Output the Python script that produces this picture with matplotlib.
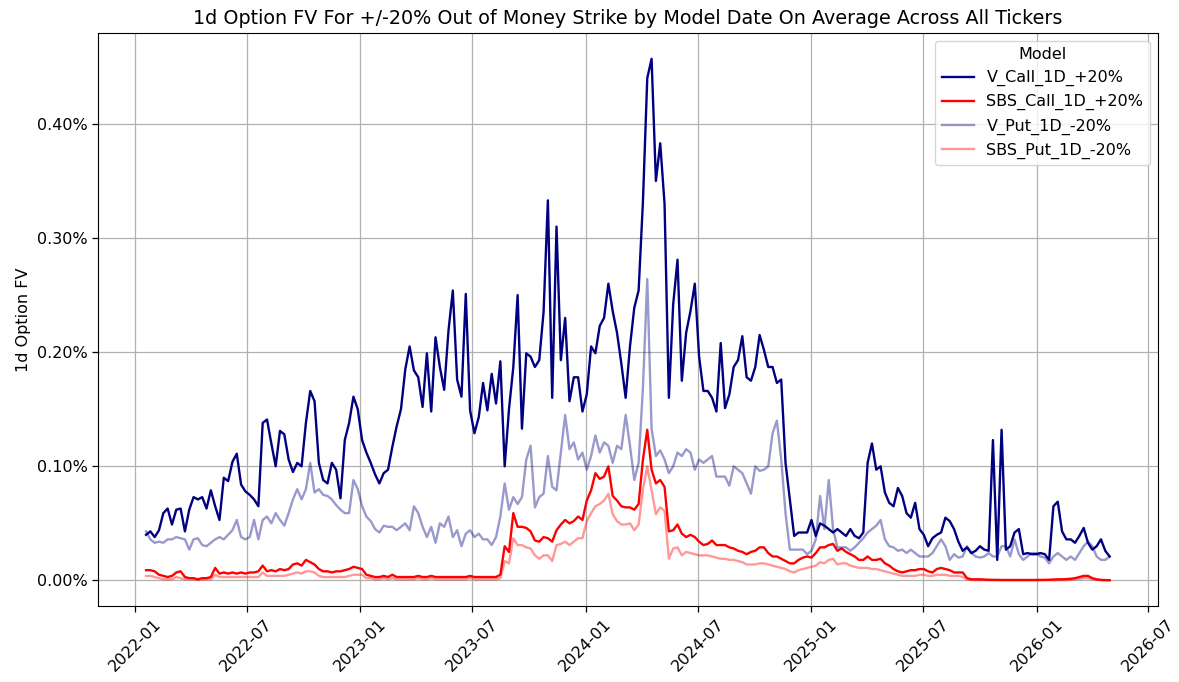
import matplotlib
matplotlib.use("Agg")
import matplotlib.pyplot as plt
import matplotlib.dates as mdates
from matplotlib.ticker import PercentFormatter
import numpy as np
import pandas as pd

# weekly model dates (Wednesdays)
dates = pd.date_range("2022-01-19", periods=224, freq="7D")

# average 1d option FV, in percent
v_call = [
    0.040, 0.043, 0.038, 0.044, 0.059, 0.063, 0.049, 0.062, 0.063, 0.043,
    0.062, 0.073, 0.071, 0.073, 0.063, 0.079, 0.065, 0.053, 0.090, 0.087,
    0.104, 0.111, 0.084, 0.078, 0.075, 0.071, 0.065, 0.138, 0.141, 0.120,
    0.100, 0.131, 0.128, 0.106, 0.095, 0.103, 0.100, 0.138, 0.166, 0.157,
    0.103, 0.088, 0.085, 0.103, 0.097, 0.072, 0.123, 0.138, 0.161, 0.150,
    0.123, 0.112, 0.103, 0.093, 0.085, 0.094, 0.097, 0.117, 0.135, 0.150,
    0.185, 0.205, 0.184, 0.178, 0.152, 0.199, 0.148, 0.213, 0.187, 0.167,
    0.219, 0.254, 0.176, 0.161, 0.251, 0.149, 0.129, 0.143, 0.173, 0.149,
    0.181, 0.155, 0.192, 0.100, 0.150, 0.187, 0.250, 0.133, 0.199, 0.196,
    0.187, 0.193, 0.235, 0.333, 0.160, 0.310, 0.193, 0.230, 0.157, 0.178,
    0.178, 0.148, 0.163, 0.205, 0.199, 0.223, 0.230, 0.260, 0.236, 0.217,
    0.190, 0.160, 0.205, 0.239, 0.254, 0.332, 0.440, 0.457, 0.350, 0.383,
    0.330, 0.160, 0.242, 0.281, 0.175, 0.217, 0.236, 0.260, 0.196, 0.166,
    0.166, 0.160, 0.148, 0.208, 0.151, 0.163, 0.187, 0.193, 0.214, 0.178,
    0.175, 0.187, 0.215, 0.202, 0.187, 0.187, 0.173, 0.176, 0.103, 0.071,
    0.039, 0.042, 0.042, 0.042, 0.053, 0.039, 0.050, 0.048, 0.045, 0.042,
    0.045, 0.042, 0.039, 0.045, 0.039, 0.037, 0.042, 0.103, 0.120, 0.097,
    0.100, 0.077, 0.068, 0.065, 0.081, 0.074, 0.059, 0.055, 0.068, 0.045,
    0.040, 0.030, 0.037, 0.040, 0.042, 0.055, 0.052, 0.045, 0.034, 0.026,
    0.029, 0.024, 0.026, 0.030, 0.027, 0.026, 0.123, 0.018, 0.132, 0.027,
    0.030, 0.042, 0.045, 0.023, 0.024, 0.023, 0.023, 0.024, 0.023, 0.018,
    0.065, 0.069, 0.043, 0.036, 0.036, 0.033, 0.039, 0.046, 0.033, 0.027,
    0.030, 0.036, 0.026, 0.021,
]

sbs_call = [
    0.009, 0.009, 0.008, 0.005, 0.004, 0.003, 0.004, 0.007, 0.008, 0.003,
    0.002, 0.002, 0.001, 0.002, 0.002, 0.003, 0.011, 0.006, 0.007, 0.006,
    0.007, 0.006, 0.007, 0.006, 0.007, 0.007, 0.008, 0.013, 0.008, 0.009,
    0.008, 0.010, 0.009, 0.010, 0.014, 0.015, 0.013, 0.018, 0.016, 0.014,
    0.010, 0.008, 0.008, 0.007, 0.008, 0.008, 0.009, 0.010, 0.012, 0.011,
    0.010, 0.005, 0.004, 0.003, 0.003, 0.004, 0.003, 0.005, 0.003, 0.003,
    0.003, 0.003, 0.003, 0.004, 0.003, 0.003, 0.004, 0.003, 0.003, 0.003,
    0.003, 0.003, 0.003, 0.003, 0.003, 0.004, 0.003, 0.003, 0.003, 0.003,
    0.003, 0.003, 0.005, 0.030, 0.025, 0.059, 0.047, 0.047, 0.046, 0.043,
    0.035, 0.034, 0.038, 0.037, 0.034, 0.044, 0.049, 0.053, 0.050, 0.052,
    0.056, 0.053, 0.070, 0.079, 0.094, 0.089, 0.091, 0.100, 0.074, 0.070,
    0.065, 0.064, 0.064, 0.062, 0.067, 0.106, 0.132, 0.097, 0.085, 0.088,
    0.082, 0.043, 0.044, 0.049, 0.041, 0.038, 0.040, 0.038, 0.034, 0.031,
    0.032, 0.035, 0.031, 0.031, 0.031, 0.029, 0.028, 0.026, 0.025, 0.023,
    0.025, 0.026, 0.029, 0.029, 0.024, 0.021, 0.021, 0.019, 0.017, 0.015,
    0.015, 0.018, 0.020, 0.021, 0.020, 0.024, 0.029, 0.029, 0.031, 0.032,
    0.026, 0.028, 0.025, 0.023, 0.021, 0.018, 0.018, 0.021, 0.018, 0.018,
    0.019, 0.015, 0.013, 0.010, 0.008, 0.007, 0.008, 0.009, 0.009, 0.010,
    0.010, 0.008, 0.007, 0.010, 0.011, 0.010, 0.009, 0.007, 0.007, 0.007,
    0.002, 0.001, 0.001, 0.001, 0.0008, 0.0006, 0.0005, 0.0005, 0.0004, 0.0004,
    0.0004, 0.0004, 0.0004, 0.0004, 0.0004, 0.0004, 0.0004, 0.0005, 0.0005, 0.0006,
    0.0008, 0.001, 0.001, 0.0012, 0.0015, 0.002, 0.003, 0.004, 0.004, 0.002,
    0.001, 0.0005, 0.0003, 0.0002,
]

v_put = [
    0.043, 0.036, 0.033, 0.034, 0.033, 0.036, 0.036, 0.038, 0.037, 0.036,
    0.027, 0.036, 0.037, 0.031, 0.030, 0.033, 0.036, 0.038, 0.036, 0.040,
    0.044, 0.053, 0.038, 0.036, 0.038, 0.053, 0.036, 0.053, 0.056, 0.050,
    0.059, 0.053, 0.048, 0.059, 0.071, 0.080, 0.071, 0.080, 0.103, 0.077,
    0.080, 0.075, 0.074, 0.071, 0.066, 0.062, 0.059, 0.059, 0.088, 0.080,
    0.065, 0.056, 0.052, 0.045, 0.042, 0.048, 0.047, 0.047, 0.044, 0.047,
    0.050, 0.044, 0.065, 0.059, 0.047, 0.038, 0.047, 0.033, 0.050, 0.047,
    0.056, 0.038, 0.044, 0.030, 0.041, 0.044, 0.038, 0.041, 0.036, 0.036,
    0.031, 0.038, 0.056, 0.085, 0.062, 0.073, 0.067, 0.073, 0.106, 0.118,
    0.064, 0.073, 0.076, 0.109, 0.082, 0.079, 0.112, 0.145, 0.115, 0.121,
    0.106, 0.112, 0.097, 0.109, 0.127, 0.112, 0.121, 0.118, 0.103, 0.118,
    0.115, 0.145, 0.118, 0.088, 0.103, 0.169, 0.264, 0.133, 0.109, 0.114,
    0.106, 0.094, 0.100, 0.112, 0.109, 0.115, 0.112, 0.097, 0.106, 0.103,
    0.106, 0.109, 0.091, 0.091, 0.091, 0.083, 0.100, 0.097, 0.094, 0.085,
    0.076, 0.100, 0.096, 0.097, 0.100, 0.129, 0.140, 0.106, 0.059, 0.027,
    0.027, 0.027, 0.027, 0.023, 0.026, 0.036, 0.074, 0.045, 0.088, 0.045,
    0.029, 0.029, 0.029, 0.026, 0.029, 0.033, 0.037, 0.042, 0.045, 0.048,
    0.053, 0.036, 0.030, 0.029, 0.026, 0.027, 0.024, 0.027, 0.024, 0.021,
    0.021, 0.021, 0.024, 0.030, 0.036, 0.030, 0.018, 0.023, 0.020, 0.021,
    0.030, 0.024, 0.021, 0.020, 0.021, 0.024, 0.021, 0.021, 0.030, 0.030,
    0.021, 0.036, 0.023, 0.018, 0.021, 0.024, 0.024, 0.021, 0.020, 0.015,
    0.021, 0.024, 0.021, 0.018, 0.021, 0.018, 0.024, 0.030, 0.034, 0.030,
    0.021, 0.018, 0.018, 0.021,
]

sbs_put = [
    0.004, 0.004, 0.003, 0.002, 0.001, 0.001, 0.001, 0.003, 0.002, 0.001,
    0.001, 0.001, 0.0005, 0.001, 0.001, 0.001, 0.005, 0.003, 0.003, 0.003,
    0.003, 0.003, 0.003, 0.003, 0.003, 0.003, 0.003, 0.007, 0.004, 0.004,
    0.004, 0.004, 0.004, 0.005, 0.006, 0.007, 0.006, 0.008, 0.008, 0.007,
    0.004, 0.003, 0.003, 0.003, 0.003, 0.003, 0.003, 0.004, 0.005, 0.005,
    0.005, 0.002, 0.002, 0.001, 0.001, 0.002, 0.001, 0.002, 0.001, 0.001,
    0.001, 0.001, 0.001, 0.002, 0.001, 0.001, 0.002, 0.001, 0.001, 0.001,
    0.001, 0.001, 0.001, 0.001, 0.001, 0.002, 0.001, 0.001, 0.001, 0.001,
    0.001, 0.001, 0.002, 0.017, 0.015, 0.037, 0.031, 0.031, 0.029, 0.028,
    0.022, 0.019, 0.022, 0.022, 0.017, 0.031, 0.032, 0.034, 0.031, 0.034,
    0.037, 0.037, 0.052, 0.059, 0.065, 0.067, 0.070, 0.076, 0.058, 0.052,
    0.049, 0.049, 0.050, 0.044, 0.049, 0.080, 0.100, 0.079, 0.058, 0.064,
    0.061, 0.019, 0.028, 0.029, 0.022, 0.025, 0.024, 0.023, 0.022, 0.022,
    0.022, 0.021, 0.020, 0.019, 0.019, 0.018, 0.018, 0.017, 0.016, 0.014,
    0.014, 0.014, 0.015, 0.015, 0.014, 0.013, 0.012, 0.011, 0.010, 0.008,
    0.007, 0.009, 0.010, 0.011, 0.012, 0.013, 0.016, 0.015, 0.018, 0.019,
    0.014, 0.015, 0.015, 0.013, 0.012, 0.011, 0.011, 0.011, 0.010, 0.010,
    0.009, 0.008, 0.007, 0.006, 0.005, 0.004, 0.004, 0.004, 0.004, 0.005,
    0.005, 0.004, 0.004, 0.005, 0.005, 0.005, 0.004, 0.004, 0.004, 0.003,
    0.001, 0.0005, 0.0004, 0.0003, 0.0003, 0.0003, 0.0003, 0.0003, 0.0003, 0.0003,
    0.0003, 0.0003, 0.0003, 0.0003, 0.0003, 0.0003, 0.0003, 0.0003, 0.0003, 0.0003,
    0.0003, 0.0003, 0.0003, 0.0003, 0.0005, 0.001, 0.0015, 0.002, 0.002, 0.001,
    0.0005, 0.0003, 0.0003, 0.0002,
]

series_names = ["V_Call_1D_+20%", "SBS_Call_1D_+20%", "V_Put_1D_-20%", "SBS_Put_1D_-20%"]
series_colors = ["navy", "red", "navy", "red"]
series_alpha = [1.0, 1.0, 0.4, 0.4]

fig, ax = plt.subplots(figsize=(11.79, 6.82), dpi=100)
fig.subplots_adjust(left=0.083, right=0.982, top=0.952, bottom=0.111)

for vals, name, col, a in zip([v_call, sbs_call, v_put, sbs_put], series_names, series_colors, series_alpha):
    ax.plot(dates, np.array(vals), color=col, alpha=a, lw=1.7, label=name)

ax.set_title("1d Option FV For +/-20% Out of Money Strike by Model Date On Average Across All Tickers", fontsize=13.8)
ax.set_ylabel("1d Option FV", fontsize=11.5)
ax.yaxis.set_major_formatter(PercentFormatter(xmax=100, decimals=2))
ax.xaxis.set_major_locator(mdates.MonthLocator(bymonth=[1, 7]))
ax.xaxis.set_major_formatter(mdates.DateFormatter("%Y-%m"))
ax.tick_params(labelsize=11.5, width=0.9, length=4)
plt.setp(ax.get_xticklabels(), rotation=45)
ax.grid(True, color="#b0b0b0", lw=0.9)
ax.legend(title="Model", loc="upper right", fontsize=11.5, title_fontsize=11.5)

plt.savefig("out.png", dpi=100)
